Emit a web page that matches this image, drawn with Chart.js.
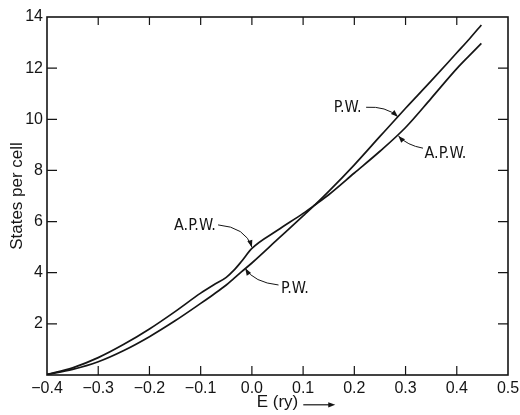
<!DOCTYPE html>
<html>
<head>
<meta charset="utf-8">
<script src="https://cdn.jsdelivr.net/npm/chart.js@4/dist/chart.umd.min.js"></script>
<style>
  html, body { margin: 0; padding: 0; background: #ffffff; }
  #wrap { width: 520px; height: 415px; position: relative; }
</style>
</head>
<body>
<div id="wrap"><canvas id="c" width="520" height="415"></canvas></div>
<script>
// ---- data ----
const energy = [-0.4, -0.35, -0.3, -0.25, -0.2, -0.15, -0.1, -0.075, -0.05, -0.035, -0.02, 0, 0.05, 0.1, 0.123, 0.15, 0.2, 0.25, 0.3, 0.35, 0.4, 0.425, 0.448];
const apwStates = [0.02, 0.28, 0.68, 1.2, 1.8, 2.48, 3.2, 3.52, 3.82, 4.1, 4.45, 4.95, 5.66, 6.32, 6.65, 7.05, 7.9, 8.75, 9.68, 10.82, 11.98, 12.5, 12.97];
const pwStates  = [0.02, 0.22, 0.52, 0.96, 1.5, 2.12, 2.8, 3.15, 3.52, 3.78, 4.04, 4.38, 5.3, 6.22, 6.65, 7.18, 8.22, 9.33, 10.43, 11.5, 12.6, 13.15, 13.69];
const seriesNames = ['A.P.W.', 'P.W.'];
const xTicks = [-0.4, -0.3, -0.2, -0.1, 0.0, 0.1, 0.2, 0.3, 0.4, 0.5];
const yTicks = [2, 4, 6, 8, 10, 12, 14];
const xTitle = 'E (ry)';
const yTitle = 'States per cell';

// ---- label annotations (data coordinates, placed through the scales) ----
const labelNotes = [
  { text: 'P.W.',   tx: 0.160,  ty: 10.29, from: [0.223, 10.47], ctrl: [0.262, 10.52], to: [0.285, 10.1] },
  { text: 'A.P.W.', tx: 0.337,  ty: 8.49,  from: [0.334, 8.87],  ctrl: [0.303, 8.98],  to: [0.286, 9.35] },
  { text: 'A.P.W.', tx: -0.152, ty: 5.67,  from: [-0.066, 5.87], ctrl: [-0.012, 5.78], to: [0.0, 5.0] },
  { text: 'P.W.',   tx: 0.057,  ty: 3.21,  from: [0.052, 3.52],  ctrl: [0.004, 3.62],  to: [-0.013, 4.17] }
];

const INK = '#151515';
const TICK_FONT = { family: '"Liberation Sans", Arial, sans-serif', size: 16 };
const NOTE_FONT = '16px "Liberation Sans Narrow", "DejaVu Sans Condensed", "Liberation Sans", sans-serif';

function pts(xs, ys) { return xs.map((x, i) => ({ x: x, y: ys[i] })); }
function fmtX(v) {
  if (Math.abs(v) < 1e-9) return '0.0';
  const s = v.toFixed(1);
  return s.replace('-', '\u2212');
}

const framePlugin = {
  id: 'frame',
  afterDraw(chart) {
    const ctx = chart.ctx;
    const a = chart.chartArea;
    const xs = chart.scales.x, ys = chart.scales.y;
    ctx.save();
    // frame
    ctx.strokeStyle = INK;
    ctx.lineWidth = 1.6;
    ctx.strokeRect(a.left, a.top, a.right - a.left, a.bottom - a.top);
    // inward ticks
    ctx.lineWidth = 1.2;
    ctx.beginPath();
    xTicks.forEach(v => {
      if (v <= xs.min + 1e-9 || v >= xs.max - 1e-9) return;
      const px = xs.getPixelForValue(v);
      ctx.moveTo(px, a.bottom); ctx.lineTo(px, a.bottom - 9);
      ctx.moveTo(px, a.top); ctx.lineTo(px, a.top + 8);
    });
    yTicks.forEach(v => {
      if (v >= ys.max - 1e-9) return;
      const py = ys.getPixelForValue(v);
      ctx.moveTo(a.left, py); ctx.lineTo(a.left + 10, py);
      ctx.moveTo(a.right, py); ctx.lineTo(a.right - 10, py);
    });
    ctx.stroke();

    // annotations
    ctx.fillStyle = INK;
    ctx.font = NOTE_FONT;
    ctx.textBaseline = 'alphabetic';
    ctx.textAlign = 'left';
    labelNotes.forEach(n => {
      ctx.fillText(n.text, xs.getPixelForValue(n.tx), ys.getPixelForValue(n.ty));
      const fx = xs.getPixelForValue(n.from[0]), fy = ys.getPixelForValue(n.from[1]);
      const cx = xs.getPixelForValue(n.ctrl[0]), cy = ys.getPixelForValue(n.ctrl[1]);
      const tx = xs.getPixelForValue(n.to[0]),   ty = ys.getPixelForValue(n.to[1]);
      ctx.lineWidth = 1;
      ctx.beginPath();
      ctx.moveTo(fx, fy);
      ctx.quadraticCurveTo(cx, cy, tx, ty);
      ctx.stroke();
      const ang = Math.atan2(ty - cy, tx - cx);
      const L = 7, W = 2.6;
      ctx.beginPath();
      ctx.moveTo(tx, ty);
      ctx.lineTo(tx - L * Math.cos(ang) + W * Math.sin(ang), ty - L * Math.sin(ang) - W * Math.cos(ang));
      ctx.lineTo(tx - L * Math.cos(ang) - W * Math.sin(ang), ty - L * Math.sin(ang) + W * Math.cos(ang));
      ctx.closePath();
      ctx.fill();
    });

    // arrow after the x-axis title
    const tf = xs.options.title.font;
    ctx.font = tf.size + 'px ' + tf.family;
    const w = ctx.measureText(xTitle).width;
    const lh = tf.size * 1.2;
    const midY = xs.bottom - (lh / 2 + xs.options.title.padding.bottom) + 2;
    const x0 = (a.left + a.right) / 2 + w / 2 + 5;
    const x1 = x0 + 32;
    ctx.lineWidth = 1.2;
    ctx.beginPath();
    ctx.moveTo(x0, midY); ctx.lineTo(x1 - 5, midY);
    ctx.stroke();
    ctx.beginPath();
    ctx.moveTo(x1, midY); ctx.lineTo(x1 - 7, midY - 2.6); ctx.lineTo(x1 - 7, midY + 2.6);
    ctx.closePath(); ctx.fill();
    ctx.restore();
  }
};

new Chart(document.getElementById('c'), {
  type: 'line',
  data: {
    datasets: [
      { label: seriesNames[0], data: pts(energy, apwStates) },
      { label: seriesNames[1], data: pts(energy, pwStates) }
    ]
  },
  options: {
    responsive: false,
    animation: false,
    devicePixelRatio: 1,
    layout: { padding: { left: 0, right: 12, top: 17, bottom: 0 } },
    elements: {
      line: { borderColor: INK, borderWidth: 1.7, cubicInterpolationMode: 'monotone', fill: false },
      point: { radius: 0, hoverRadius: 0 }
    },
    plugins: { legend: { display: false }, tooltip: { enabled: false } },
    scales: {
      x: {
        type: 'linear', min: -0.4, max: 0.5,
        afterBuildTicks: s => { s.ticks = xTicks.map(v => ({ value: v })); },
        afterFit: s => { s.height = 40; s.paddingLeft = 0; s.paddingRight = 0; },
        grid: { display: false, drawTicks: false },
        border: { display: false },
        ticks: { color: INK, font: TICK_FONT, padding: 4, maxRotation: 0, autoSkip: false, callback: v => fmtX(v) },
        title: { display: true, text: xTitle, color: INK, font: { family: '"Liberation Sans", Arial, sans-serif', size: 17 }, padding: { top: 0, bottom: 2 } }
      },
      y: {
        type: 'linear', min: 0, max: 14,
        afterBuildTicks: s => { s.ticks = yTicks.map(v => ({ value: v })); },
        afterFit: s => { s.width = 47; s.paddingTop = 0; s.paddingBottom = 0; },
        grid: { display: false, drawTicks: false },
        border: { display: false },
        ticks: { color: INK, font: TICK_FONT, padding: 4, autoSkip: false, callback: v => String(v) },
        title: { display: true, text: yTitle, color: INK, font: { family: '"Liberation Sans", Arial, sans-serif', size: 17 }, padding: { top: 7, bottom: 0 } }
      }
    }
  },
  plugins: [framePlugin]
});
</script>
</body>
</html>
